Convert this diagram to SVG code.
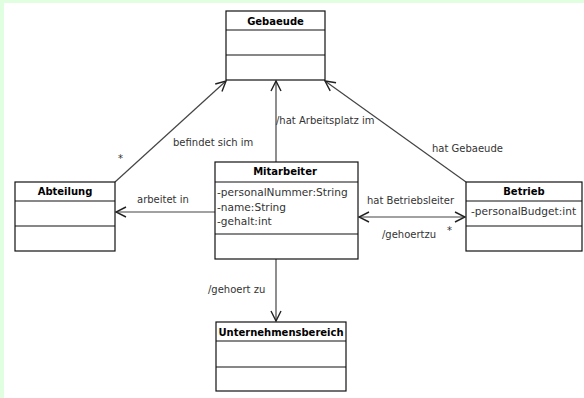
<svg xmlns="http://www.w3.org/2000/svg" width="584" height="398" viewBox="0 0 584 398">
<defs>
<marker id="open" viewBox="0 0 12 12" refX="11" refY="6" markerWidth="12" markerHeight="12" markerUnits="userSpaceOnUse" orient="auto-start-reverse">
<path d="M1,1 L11,6 L1,11" fill="none" stroke="#222" stroke-width="1.4"/>
</marker>
</defs>
<style>
.box{fill:#fff;stroke:#111;stroke-width:1.2}
.sep{stroke:#111;stroke-width:1.2}
.hd{font-family:"DejaVu Sans",sans-serif;font-weight:bold;font-size:10px;fill:#000;text-anchor:middle}
.at{font-family:"DejaVu Sans",sans-serif;font-size:10.6px;fill:#333}
.lb{font-family:"DejaVu Sans",sans-serif;font-size:10px;fill:#333}
.cn{stroke:#444;stroke-width:1.2;fill:none}
</style>
<rect x="0" y="0" width="584" height="398" fill="#e0ffe0"/>
<rect x="4" y="3" width="580" height="395" fill="#fff"/>
<g id="connectors">
<line class="cn" x1="276" y1="162" x2="276" y2="81" marker-end="url(#open)"/>
<line class="cn" x1="115" y1="182" x2="226" y2="81" marker-end="url(#open)"/>
<line class="cn" x1="466" y1="182" x2="325" y2="81" marker-end="url(#open)"/>
<line class="cn" x1="215" y1="212" x2="116" y2="212" marker-end="url(#open)"/>
<line class="cn" x1="359" y1="217" x2="465" y2="217" marker-start="url(#open)" marker-end="url(#open)"/>
<line class="cn" x1="276" y1="259" x2="276" y2="321" marker-end="url(#open)"/>
<text class="lb" x="173" y="146">befindet sich im</text>
<text class="lb" x="118" y="162">*</text>
<text class="lb" x="276" y="124">/hat Arbeitsplatz im</text>
<text class="lb" x="432" y="152">hat Gebaeude</text>
<text class="lb" x="137" y="203">arbeitet in</text>
<text class="lb" x="367" y="204">hat Betriebsleiter</text>
<text class="lb" x="382" y="238">/gehoertzu</text>
<text class="lb" x="447" y="234">*</text>
<text class="lb" x="208" y="293">/gehoert zu</text>
</g>
<g id="Gebaeude">
<rect class="box" x="226" y="11" width="99" height="69"/>
<line class="sep" x1="226" y1="30" x2="325" y2="30"/>
<line class="sep" x1="226" y1="55" x2="325" y2="55"/>
<text class="hd" x="275.5" y="25">Gebaeude</text>
</g>
<g id="Abteilung">
<rect class="box" x="15" y="182" width="100" height="69"/>
<line class="sep" x1="15" y1="201" x2="115" y2="201"/>
<line class="sep" x1="15" y1="226" x2="115" y2="226"/>
<text class="hd" x="65" y="195">Abteilung</text>
</g>
<g id="Mitarbeiter">
<rect class="box" x="215" y="162" width="143" height="97"/>
<line class="sep" x1="215" y1="182" x2="358" y2="182"/>
<line class="sep" x1="215" y1="234" x2="358" y2="234"/>
<text class="hd" x="285" y="175">Mitarbeiter</text>
<text class="at" x="217" y="196">-personalNummer:String</text>
<text class="at" x="217" y="211">-name:String</text>
<text class="at" x="217" y="225">-gehalt:int</text>
</g>
<g id="Betrieb">
<rect class="box" x="466" y="182" width="116" height="69"/>
<line class="sep" x1="466" y1="201" x2="582" y2="201"/>
<line class="sep" x1="466" y1="226" x2="582" y2="226"/>
<text class="hd" x="524" y="195">Betrieb</text>
<text class="at" x="471" y="215">-personalBudget:int</text>
</g>
<g id="Unternehmensbereich">
<rect class="box" x="216" y="322" width="130" height="69"/>
<line class="sep" x1="216" y1="341" x2="346" y2="341"/>
<line class="sep" x1="216" y1="367" x2="346" y2="367"/>
<text class="hd" x="281" y="336">Unternehmensbereich</text>
</g>
</svg>
